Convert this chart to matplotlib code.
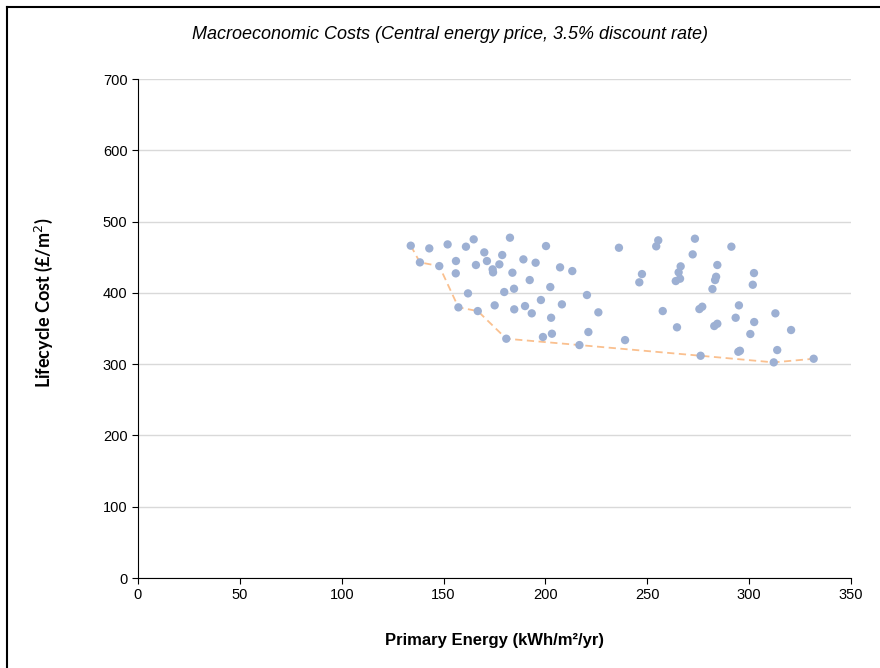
import numpy as np
import matplotlib.pyplot as plt
import matplotlib as mpl
from matplotlib.lines import Line2D

mpl.rcParams['font.family'] = ['Liberation Sans', 'DejaVu Sans']

# all options (primary energy, lifecycle cost)
energy = [133.9, 138.4, 143.0, 147.9, 152.0, 156.1, 156.0, 157.3, 161.0, 164.8,
          162.0, 165.9, 166.8, 170.0, 171.3, 174.1, 174.3, 175.1, 177.4, 178.8,
          182.6, 179.8, 183.8, 184.6, 184.7, 180.8, 189.2, 190.0, 192.3, 193.3,
          195.2, 197.8, 200.3, 202.4, 202.8, 198.8, 203.2, 207.2, 208.1, 213.2,
          216.7, 220.4, 221.1, 226.0, 236.1, 255.4, 254.4, 273.4, 272.3, 291.3,
          247.4, 246.1, 266.4, 265.4, 266.1, 264.0, 284.4, 283.8, 283.3, 282.0,
          302.4, 301.8, 257.6, 264.6, 275.6, 277.0, 282.9, 284.4, 295.0, 293.4,
          302.5, 300.6, 312.9, 320.6, 239.1, 276.2, 294.7, 295.5, 313.8, 312.1,
          331.7]
cost = [466.2, 442.8, 462.4, 437.6, 468.0, 444.7, 427.4, 379.7, 464.8, 475.1,
        399.3, 439.1, 374.5, 456.8, 444.7, 433.0, 428.8, 382.5, 440.0, 453.1,
        477.4, 401.2, 428.3, 405.8, 376.9, 335.7, 447.0, 381.5, 418.0, 371.3,
        442.3, 390.0, 465.7, 408.2, 365.1, 338.1, 342.7, 435.8, 383.9, 430.6,
        326.8, 397.0, 345.1, 372.7, 463.3, 473.7, 465.3, 476.0, 454.0, 464.8,
        426.4, 414.8, 437.2, 428.8, 419.9, 416.6, 439.1, 422.6, 418.0, 405.4,
        427.8, 411.4, 374.5, 351.7, 377.3, 380.6, 353.5, 356.7, 382.5, 365.1,
        359.1, 342.3, 371.3, 347.9, 333.8, 311.8, 317.4, 318.8, 319.8, 302.5,
        307.6]

# cost-optimal frontier
front_energy = [133.9, 138.4, 147.9, 157.3, 166.8, 180.8, 216.7, 276.2, 312.1, 331.7]
front_cost = [466.2, 442.8, 437.6, 379.7, 374.5, 335.7, 326.8, 311.8, 302.5, 307.6]

fig = plt.figure(figsize=(8.8, 6.68), dpi=100)
ax = fig.add_axes([0.1568, 0.1347, 0.8102, 0.747])

ax.plot(front_energy, front_cost, color='#FAC08F', linestyle=(0, (4, 2.5)),
        linewidth=1.3, zorder=2)
ax.scatter(energy, cost, s=36, color='#9DB0D3', edgecolors='none', zorder=3)

ax.set_xlim(0, 350)
ax.set_ylim(0, 700)
ax.set_xticks(np.arange(0, 351, 50))
ax.set_yticks(np.arange(0, 701, 100))
ax.grid(axis='y', color='#D9D9D9', linewidth=1)
ax.set_axisbelow(True)
for s in ['top', 'right']:
    ax.spines[s].set_visible(False)
ax.spines['left'].set_color('black')
ax.spines['bottom'].set_color('black')
ax.tick_params(axis='both', direction='out', length=4, width=0.8,
               labelsize=10.5, colors='black')

ax.set_xlabel('Primary Energy (kWh/m²/yr)', fontsize=12, fontweight='bold', labelpad=22)
ax.set_ylabel('Lifecycle Cost (£/m$^{2}$)', fontsize=13, fontweight='bold',
              family=['Lato', 'DejaVu Sans'])
ax.yaxis.set_label_coords(-0.1164, 0.552)
ax.set_title('Macroeconomic Costs (Central energy price, 3.5% discount rate)',
             fontsize=13, style='italic', pad=29, x=0.4376)

# frame lines (top and left only)
fig.add_artist(Line2D([7 / 880, 1], [1 - 7 / 668, 1 - 7 / 668], color='black',
                      linewidth=1.5, transform=fig.transFigure))
fig.add_artist(Line2D([7 / 880, 7 / 880], [0, 1 - 7 / 668], color='black',
                      linewidth=1.5, transform=fig.transFigure))

fig.savefig('out.png', dpi=100)
